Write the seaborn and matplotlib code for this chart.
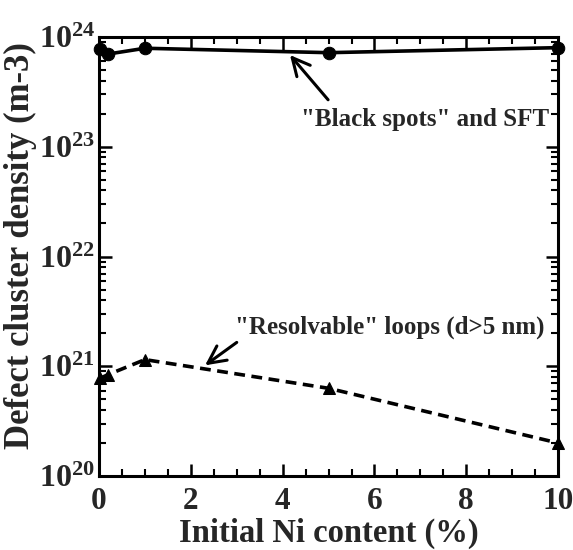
import numpy as np
import pandas as pd
import seaborn as sns
import matplotlib
matplotlib.use("Agg")
import matplotlib.pyplot as plt
from matplotlib.ticker import LogLocator, MultipleLocator, NullFormatter

# Dados
ni_spots = [0.03, 0.2, 1, 5, 10]
dens_spots = [7.8e23, 7.0e23, 7.9e23, 7.2e23, 8.0e23]
ni_loops = [0.03, 0.2, 1, 5, 10]
dens_loops = [7.8e20, 8.4e20, 1.15e21, 6.3e20, 2.0e20]

sns.set_theme(style="ticks")
plt.rcParams["font.family"] = ["Liberation Serif", "DejaVu Serif"]
plt.rcParams["font.weight"] = "bold"
plt.rcParams["mathtext.fontset"] = "custom"
plt.rcParams["mathtext.rm"] = "Liberation Serif:bold"
plt.rcParams["mathtext.bf"] = "Liberation Serif:bold"

fig = plt.figure(figsize=(5.73, 5.5), dpi=100)
ax = fig.add_axes([0.1728, 0.1345, 0.8012, 0.7982])

sns.lineplot(x=ni_spots, y=dens_spots, ax=ax, color="black", lw=2.6,
             marker="o", markersize=9, markeredgecolor="black", clip_on=False)
sns.lineplot(x=ni_loops, y=dens_loops, ax=ax, color="black", lw=2.6,
             linestyle=(0, (3, 1.8)), marker="^", markersize=8,
             markeredgecolor="black", clip_on=False)

ax.set_yscale("log")
ax.set_xlim(0, 10)
ax.set_ylim(1e20, 1e24)
ax.xaxis.set_major_locator(MultipleLocator(2))
ax.xaxis.set_minor_locator(MultipleLocator(0.5))
ax.yaxis.set_major_locator(LogLocator(base=10, numticks=10))
ax.yaxis.set_minor_locator(LogLocator(base=10, subs=np.arange(2, 10), numticks=10))
ax.yaxis.set_minor_formatter(NullFormatter())

ax.tick_params(which="both", direction="in", top=True, right=True, color="black")
ax.tick_params(axis="x", labelsize=22.5, pad=8)
ax.tick_params(axis="y", labelsize=23, pad=3)
ax.tick_params(which="major", length=9, width=1.8)
ax.tick_params(which="minor", length=5, width=1.5)
for s in ax.spines.values():
    s.set_linewidth(2.2)
    s.set_color("black")

ax.set_xlabel("Initial Ni content (%)", fontsize=23.5, fontweight="bold")
ax.set_ylabel("Defect cluster density (m-3)", fontsize=25, fontweight="bold")
ax.xaxis.set_label_coords(0.5, -0.095)
ax.yaxis.set_label_coords(-0.135, 0.525)

arrow = dict(arrowstyle="->, head_length=0.7, head_width=0.35", color="black",
             lw=2.2, shrinkA=0, shrinkB=0, mutation_scale=18)
ax.annotate("", xy=(4.16, 6.85e23), xytext=(4.99, 2.68e23), arrowprops=arrow)
ax.text(7.1, 1.76e23, '"Black spots" and SFT', fontsize=18, fontweight="bold",
        ha="center", va="center")
ax.annotate("", xy=(2.31, 1.02e21), xytext=(3.0, 1.65e21), arrowprops=arrow)
ax.text(6.34, 2.27e21, '"Resolvable" loops (d>5 nm)', fontsize=18, fontweight="bold",
        ha="center", va="center")

fig.savefig("out.png", dpi=100)
